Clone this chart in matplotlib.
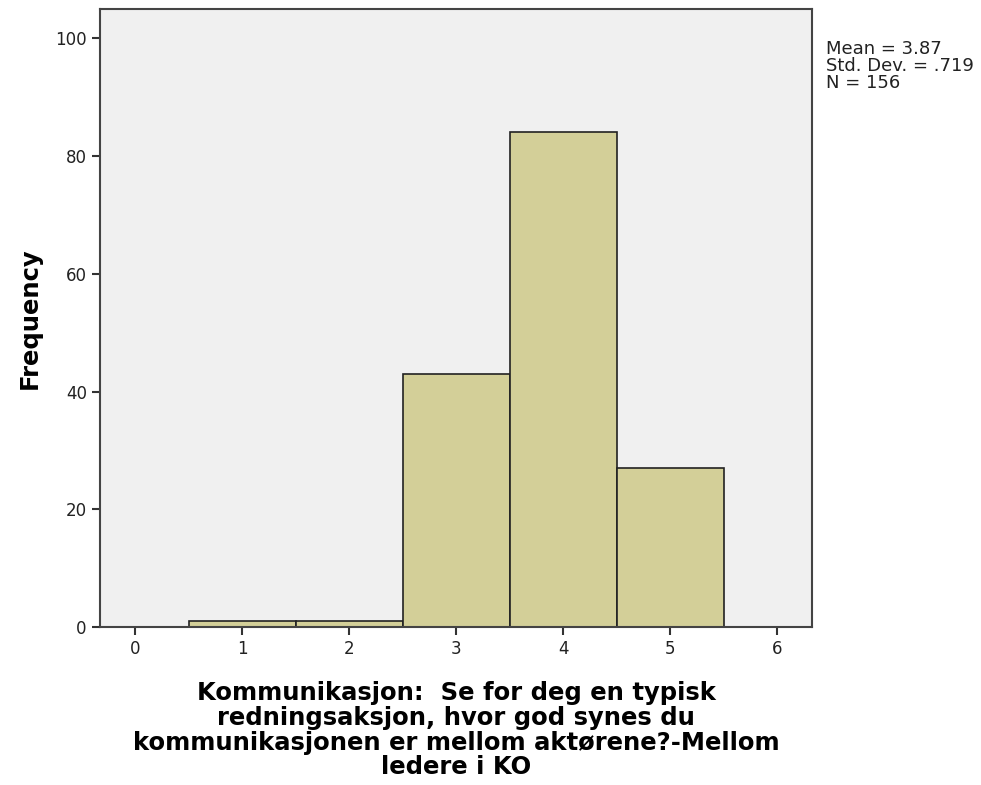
import matplotlib
matplotlib.use('Agg')
import matplotlib.pyplot as plt

plt.rcParams.update({'font.size': 12})
plt.rcParams["font.family"] = "DejaVu Sans"

# histogram data
bin_centers = [1, 2, 3, 4, 5]
counts = [1, 1, 43, 84, 27]
x_ticks = [0, 1, 2, 3, 4, 5, 6]
y_ticks = [0, 20, 40, 60, 80, 100]
stats_text = "Mean = 3.87\nStd. Dev. = .719\nN = 156"
x_label = ("Kommunikasjon:  Se for deg en typisk\nredningsaksjon, hvor god synes du\n"
           "kommunikasjonen er mellom aktørene?-Mellom\nledere i KO")

fig = plt.figure(figsize=(9.81, 7.85), dpi=100)
ax = fig.add_axes([0.102, 0.201, 0.726, 0.788])
ax.set_facecolor('#f0f0f0')

ax.bar(bin_centers, counts, width=1.0, color='#d3cf98', edgecolor='#222222', linewidth=1.2)

ax.set_xlim(-0.33, 6.33)
ax.set_ylim(0, 105)
ax.set_xticks(x_ticks)
ax.set_yticks(y_ticks)
ax.tick_params(direction='out', length=6, width=1.5, colors='#333333', labelcolor='#222222', labelsize=12)
for s in ax.spines.values():
    s.set_color('#444444')
    s.set_linewidth(1.5)

ax.set_ylabel('Frequency', fontsize=17.5, fontweight='bold', labelpad=10)
ax.set_xlabel(x_label, fontsize=17.5, fontweight='bold', linespacing=1.05, labelpad=16)

fig.text(826 / 981, 1 - 40 / 785, stats_text, fontsize=13, va='top', ha='left',
         linespacing=0.93, color='#222222')

plt.savefig('out.png')
